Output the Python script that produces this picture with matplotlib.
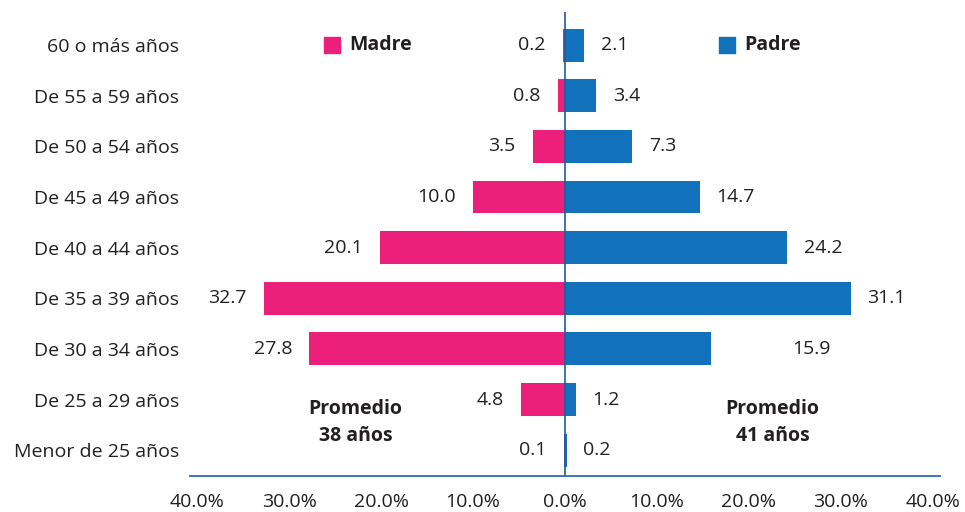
import numpy as np
import matplotlib
matplotlib.use('Agg')
import matplotlib.pyplot as plt

# Datos
grupos = ['Menor de 25 años', 'De 25 a 29 años', 'De 30 a 34 años', 'De 35 a 39 años',
          'De 40 a 44 años', 'De 45 a 49 años', 'De 50 a 54 años', 'De 55 a 59 años',
          '60 o más años']
madre = [0.1, 4.8, 27.8, 32.7, 20.1, 10.0, 3.5, 0.8, 0.2]
padre = [0.2, 1.2, 15.9, 31.1, 24.2, 14.7, 7.3, 3.4, 2.1]
ticks = [-40, -30, -20, -10, 0, 10, 20, 30, 40]
promedio_madre = 38
promedio_padre = 41

rosa = '#EC1F7A'
azul = '#1172BB'
texto = '#231F20'

plt.rcParams['font.family'] = ['Open Sans', 'DejaVu Sans']
fs = 14

fig = plt.figure(figsize=(9.65, 5.12), dpi=100)
ax = fig.add_axes([0.1969, 0.0703, 0.7772, 0.906])

y = np.arange(len(grupos))
ax.barh(y, [-m for m in madre], height=0.65, color=rosa)
ax.barh(y, padre, height=0.65, color=azul)

ax.axvline(0, color='#1D5E9E', lw=1.2)

# Etiquetas de valores
for i in range(len(grupos)):
    ax.text(-madre[i] - 1.9, y[i], f'{madre[i]:.1f}', ha='right', va='center',
            fontsize=fs, color=texto)
    extra = 7.0 if i == 2 else 0.0
    ax.text(padre[i] + 1.8 + extra, y[i], f'{padre[i]:.1f}', ha='left', va='center',
            fontsize=fs, color=texto)

# Leyenda
ax.scatter([-25.3], [8], marker='s', s=135, color=rosa)
ax.text(-23.5, 8, 'Madre', ha='left', va='center', fontsize=fs, fontweight='bold', color=texto)
ax.scatter([17.6], [8], marker='s', s=135, color=azul)
ax.text(19.5, 8, 'Padre', ha='left', va='center', fontsize=fs, fontweight='bold', color=texto)

# Promedios
ax.text(-22.8, 0.55, f'Promedio\n{promedio_madre} años', ha='center', va='center',
        fontsize=fs, fontweight='bold', color=texto, linespacing=1.45)
ax.text(22.6, 0.55, f'Promedio\n{promedio_padre} años', ha='center', va='center',
        fontsize=fs, fontweight='bold', color=texto, linespacing=1.45)

ax.set_xlim(-40.8, 40.8)
ax.set_ylim(-0.51, 8.65)
ax.set_xticks(ticks)
ax.set_xticklabels([f'{abs(t):.1f}%' for t in ticks], fontsize=fs, color=texto)
ax.set_yticks(y)
ax.set_yticklabels(grupos, fontsize=fs, color=texto)
ax.tick_params(axis='x', length=0, pad=12)
ax.tick_params(axis='y', length=0, pad=8)

for s in ['top', 'right', 'left']:
    ax.spines[s].set_visible(False)
ax.spines['bottom'].set_color('#2C6DB0')
ax.spines['bottom'].set_linewidth(1.3)

fig.savefig('out.png', dpi=100)
